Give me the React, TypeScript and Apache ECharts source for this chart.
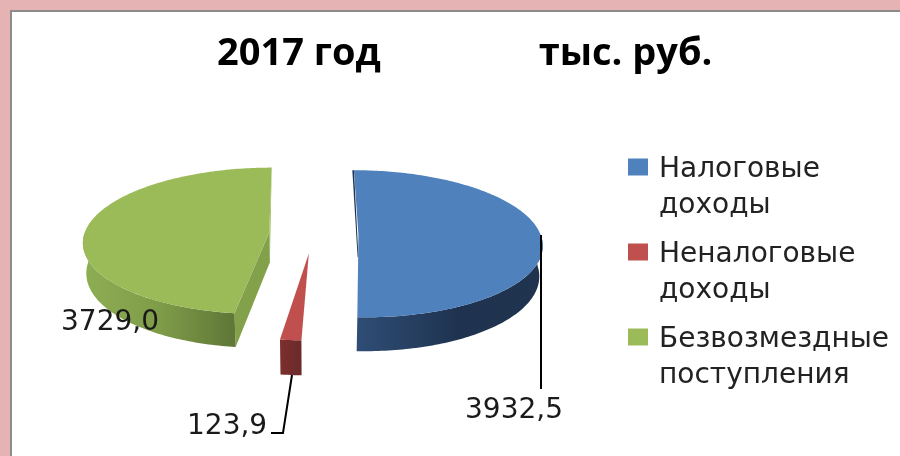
import React, { useEffect, useRef } from "react";
import * as echarts from "echarts";

const titleText = "2017 год                тыс. руб.";
const categories = ["Налоговые\nдоходы", "Неналоговые\nдоходы", "Безвозмездные\nпоступления"];
const values = [3932.5, 123.9, 3729.0];
const valueLabels = ["3932,5", "123,9", "3729,0"];
const colors = ["#4f81bd", "#c0504d", "#9bbb59"];

const FONT = "'DejaVu Sans'";
// projection of the tilted, exploded pie
const k = 0.1156, A = 72.5, B = 184.8, cx0 = 312.5, cy0 = 235, explode = 0.235, depth = 30, baseScale = 0.985;
const wallStops = [
  [[0, "#2f4d75"], [0.55, "#1f3350"], [1, "#20344f"]],
  [[0, "#7c2f2e"], [1, "#6b2a2a"]],
  [[0, "#8eae53"], [0.5, "#7f9c49"], [1, "#5f7636"]],
];
// small per-slice corrections: [arc x, apex x, y]
const trims = [[2.5, 2.5, 0], [0, 0, 1], [-2, 0, -1.5]];
const labelAnchors = [[465, 408], [187, 424], [61, 320]];
const leaders = [
  [[541, 235], [541, 389]],
  [[292, 375], [283, 433], [271, 433]],
  [],
];

const rad = (d: number) => (d * Math.PI) / 180;
const project = (X: number, Y: number, sx = 0, sy = 0) => {
  const w = 1 / (1 + k * Y);
  return { x: cx0 + B * X * w + sx, y: cy0 - A * Y * w + sy, w };
};
const top = (p: any) => [p.x, p.y];
const base = (p: any) => [cx0 + (p.x - cx0) * baseScale, p.y + depth * p.w];

function renderSlice(index: number) {
  return (_params: any, api: any) => {
    const total = values.reduce((a, b) => a + b, 0);
    const before = values.slice(0, index).reduce((a, b) => a + b, 0);
    const start = (before / total) * 360;
    const end = ((before + api.value(0)) / total) * 360;
    const mid = (start + end) / 2;
    const dX = explode * Math.sin(rad(mid));
    const dY = explode * Math.cos(rad(mid));
    const [tArc, tApex, tY] = trims[index];
    const at = (t: number) =>
      project(dX + Math.sin(rad(t)), dY + Math.cos(rad(t)), tArc * (1 - Math.abs(Math.sin(rad(t)))), tY);
    const apex = project(dX, dY, tApex, tY);
    const arc = (a: number, b: number) => {
      const n = Math.max(2, Math.ceil(Math.abs(b - a)));
      return Array.from({ length: n + 1 }, (_, i) => at(a + ((b - a) * i) / n));
    };
    const children: any[] = [];

    // faces along the cuts
    if (index === 0) {
      const p = at(start);
      children.push({
        type: "polygon",
        shape: { points: [[p.x - 1.6, p.y], [p.x, p.y], [apex.x, apex.y + 22], [apex.x - 0.8, apex.y + 22]] },
        style: { fill: "#1f3350" },
      });
    }
    if (index === 2) {
      const b = at(end);
      children.push({
        type: "polygon",
        shape: { points: [top(b), top(apex), base(apex)] },
        style: { fill: "#9dbd5b" },
      });
      const f = at(start);
      children.push({
        type: "polygon",
        shape: { points: [top(apex), top(f), base(f), base(apex)] },
        style: { fill: "#83a04a" },
      });
    }
    // outer wall, front half only
    const wa = Math.max(start, 90);
    const wb = Math.min(end, 270);
    if (wb > wa) {
      const pts = arc(wa, wb);
      children.push({
        type: "polygon",
        shape: { points: [...pts.map(top), ...pts.slice().reverse().map(base)] },
        style: {
          fill: new echarts.graphic.LinearGradient(
            0, 0, 1, 0,
            wallStops[index].map((s: any) => ({ offset: s[0], color: s[1] }))
          ),
        },
      });
    }
    // top surface
    children.push({
      type: "polygon",
      shape: { points: [top(apex), ...arc(start, end).map(top)] },
      style: { fill: colors[index] },
    });
    // leader line and value label
    if (leaders[index].length) {
      children.push({
        type: "polyline",
        shape: { points: leaders[index] },
        style: { fill: "none", stroke: "#000", lineWidth: 2 },
      });
    }
    children.push({
      type: "text",
      x: labelAnchors[index][0],
      y: labelAnchors[index][1],
      style: {
        text: valueLabels[index],
        font: `28px ${FONT}`,
        fill: "#1a1a1a",
        textVerticalAlign: "middle",
      },
    });
    return { type: "group", children };
  };
}

export default function App() {
  const ref = useRef<HTMLDivElement>(null);
  useEffect(() => {
    document.body.style.margin = "0";
    const chart = echarts.init(ref.current!, null, { renderer: "svg" });
    chart.setOption({
      animation: false,
      backgroundColor: "#e6b3b5",
      graphic: [
        { type: "rect", z: -10, shape: { x: 10, y: 10, width: 890, height: 446 }, style: { fill: "#8c8c8c" } },
        { type: "rect", z: -9, shape: { x: 12, y: 12, width: 888, height: 444 }, style: { fill: "#ffffff" } },
      ],
      title: {
        text: titleText,
        left: 212,
        top: 26,
        textStyle: { fontFamily: "'Open Sans'", fontSize: 38, fontWeight: "bold", color: "#000" },
      },
      legend: {
        orient: "vertical",
        left: 628,
        top: 149,
        padding: 0,
        itemWidth: 20,
        itemHeight: 53,
        itemGap: 13,
        icon: "path://M0 0H20V17H0Z M0 53L0 53Z",
        data: categories,
        selectedMode: false,
        textStyle: { fontFamily: FONT, fontSize: 28, color: "#222", lineHeight: 36, padding: [0, 0, 0, 6] },
      },
      series: categories.map((name, i) => ({
        type: "custom",
        name,
        coordinateSystem: "none",
        itemStyle: { color: colors[i] },
        data: [[values[i]]],
        renderItem: renderSlice(i),
        silent: true,
      })),
    });
    return () => chart.dispose();
  }, []);
  return <div ref={ref} style={{ position: "fixed", left: 0, top: 0, width: 900, height: 456, filter: "blur(0.4px)" }} />;
}
